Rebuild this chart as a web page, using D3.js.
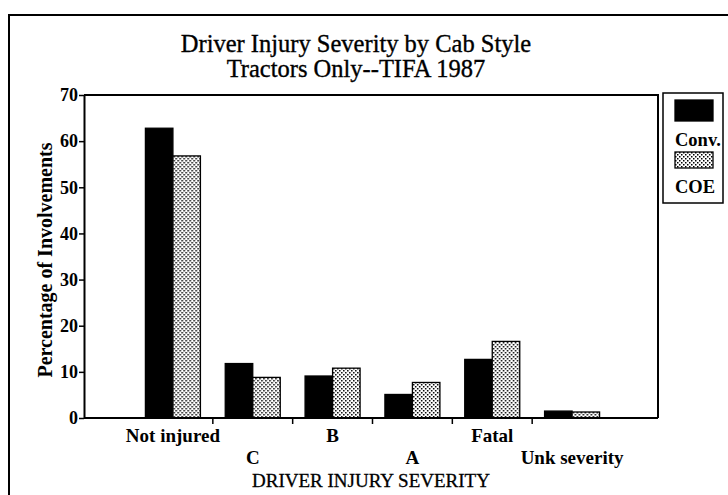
<!DOCTYPE html>
<html>
<head>
<meta charset="utf-8">
<script src="https://cdn.jsdelivr.net/npm/d3@7"></script>
<style>
  html, body { margin: 0; padding: 0; background: #fff; }
  svg { display: block; }
  text { font-family: "Liberation Serif", "DejaVu Serif", serif; fill: #000; }
</style>
</head>
<body>
<svg id="chart" width="728" height="495"></svg>
<script>
// Driver injury severity, percentage of involvements by cab style
const categories = ["Not injured", "C", "B", "A", "Fatal", "Unk severity"];
const seriesNames = ["Conv.", "COE"];
const convValues = [62.8, 11.8, 9.1, 5.1, 12.7, 1.5];
const coeValues = [56.8, 8.8, 10.8, 7.7, 16.6, 1.3];
const yTickValues = [0, 10, 20, 30, 40, 50, 60, 70];
const titleLines = ["Driver Injury Severity by Cab Style", "Tractors Only--TIFA 1987"];
const yAxisTitle = "Percentage of Involvements";
const xAxisTitle = "DRIVER INJURY SEVERITY";

const svg = d3.select("#chart");

// Dotted fill for the COE series
const defs = svg.append("defs");
const pat = defs.append("pattern")
  .attr("id", "dots")
  .attr("patternUnits", "userSpaceOnUse")
  .attr("width", 4).attr("height", 4);
pat.append("rect").attr("width", 4).attr("height", 4).attr("fill", "#fff");
pat.append("rect").attr("x", 0).attr("y", 0).attr("width", 1.5).attr("height", 1.5).attr("fill", "#000");
pat.append("rect").attr("x", 2).attr("y", 2).attr("width", 1.5).attr("height", 1.5).attr("fill", "#000");

const fills = { "Conv.": "#000", "COE": "url(#dots)" };

// Outer frame
svg.append("rect")
  .attr("x", 9).attr("y", 15)
  .attr("width", 760).attr("height", 520)
  .attr("fill", "none").attr("stroke", "#000").attr("stroke-width", 2);

// Title
svg.append("g").selectAll("text")
  .data(titleLines)
  .join("text")
  .attr("x", 356)
  .attr("y", (d, i) => 52 + i * 25)
  .attr("text-anchor", "middle")
  .attr("font-size", 24.5)
  .attr("stroke", "#000").attr("stroke-width", 0.35)
  .text(d => d);

// Plot area
const plot = { left: 84, top: 95, right: 658, bottom: 418 };

const y = d3.scaleLinear().domain([0, 70]).range([plot.bottom, plot.top]);

const x = d3.scaleBand()
  .domain(categories)
  .range([plot.left + 49, plot.right - 46])
  .paddingInner(0.311)
  .paddingOuter(0.1555);

const xs = d3.scaleBand().domain(seriesNames).range([0, x.bandwidth()]);

const rows = categories.map((c, i) => ({ cat: c, values: [
  { key: "Conv.", value: convValues[i] },
  { key: "COE", value: coeValues[i] }
]}));

// Bars
const groups = svg.append("g").selectAll("g")
  .data(rows)
  .join("g")
  .attr("transform", d => `translate(${x(d.cat)},0)`);

groups.selectAll("rect")
  .data(d => d.values)
  .join("rect")
  .attr("x", d => xs(d.key))
  .attr("y", d => y(d.value))
  .attr("width", xs.bandwidth())
  .attr("height", d => y(0) - y(d.value))
  .attr("fill", d => fills[d.key])
  .attr("stroke", "#000")
  .attr("stroke-width", 1.3);

// Plot border (top and right)
svg.append("path")
  .attr("d", `M${plot.left},${plot.top}H${plot.right}V${plot.bottom}`)
  .attr("fill", "none").attr("stroke", "#000").attr("stroke-width", 2);

// Y axis
const yAxis = svg.append("g")
  .attr("transform", `translate(${plot.left},0)`)
  .call(d3.axisLeft(y).tickValues(yTickValues).tickSize(5).tickPadding(1).tickSizeOuter(0));
yAxis.select(".domain").attr("stroke-width", 2);
yAxis.selectAll(".tick line").attr("stroke-width", 1.5);
yAxis.selectAll(".tick text")
  .attr("font-family", "Liberation Serif, serif")
  .attr("font-size", 18)
  .attr("font-weight", "bold");

// X axis baseline with ticks between categories
svg.append("line")
  .attr("x1", plot.left).attr("x2", plot.right)
  .attr("y1", plot.bottom).attr("y2", plot.bottom)
  .attr("stroke", "#000").attr("stroke-width", 2);

const boundaries = categories.slice(1).map(c => x(c) - x.step() * x.paddingInner() / 2);
svg.append("g").selectAll("line")
  .data(boundaries)
  .join("line")
  .attr("x1", d => d).attr("x2", d => d)
  .attr("y1", plot.bottom).attr("y2", plot.bottom + 6)
  .attr("stroke", "#000").attr("stroke-width", 1.5);

// Staggered category labels
svg.append("g").selectAll("text")
  .data(categories)
  .join("text")
  .attr("x", d => x(d) + x.bandwidth() / 2)
  .attr("y", (d, i) => i % 2 === 0 ? 442 : 464)
  .attr("text-anchor", "middle")
  .attr("font-size", 19)
  .attr("font-weight", "bold")
  .text(d => d);

// Axis titles
svg.append("text")
  .attr("x", (plot.left + plot.right) / 2)
  .attr("y", 487)
  .attr("text-anchor", "middle")
  .attr("font-size", 19)
  .attr("stroke", "#000").attr("stroke-width", 0.3)
  .text(xAxisTitle);

svg.append("text")
  .attr("transform", `translate(52,260) rotate(-90)`)
  .attr("text-anchor", "middle")
  .attr("font-size", 20)
  .attr("font-weight", "bold")
  .text(yAxisTitle);

// Legend
const legend = svg.append("g");
legend.append("rect")
  .attr("x", 663).attr("y", 93)
  .attr("width", 60).attr("height", 110)
  .attr("fill", "none").attr("stroke", "#000").attr("stroke-width", 1.5);

const legendItems = legend.selectAll("g")
  .data(seriesNames)
  .join("g")
  .attr("transform", (d, i) => `translate(675,${100 + i * 52})`);

legendItems.append("rect")
  .attr("width", 38)
  .attr("height", (d, i) => i === 0 ? 21 : 16)
  .attr("fill", d => fills[d])
  .attr("stroke", "#000").attr("stroke-width", 1.3);

legendItems.append("text")
  .attr("x", 0)
  .attr("y", (d, i) => i === 0 ? 46 : 41)
  .attr("font-size", 18.5)
  .attr("font-weight", "bold")
  .text(d => d);
</script>
</body>
</html>
